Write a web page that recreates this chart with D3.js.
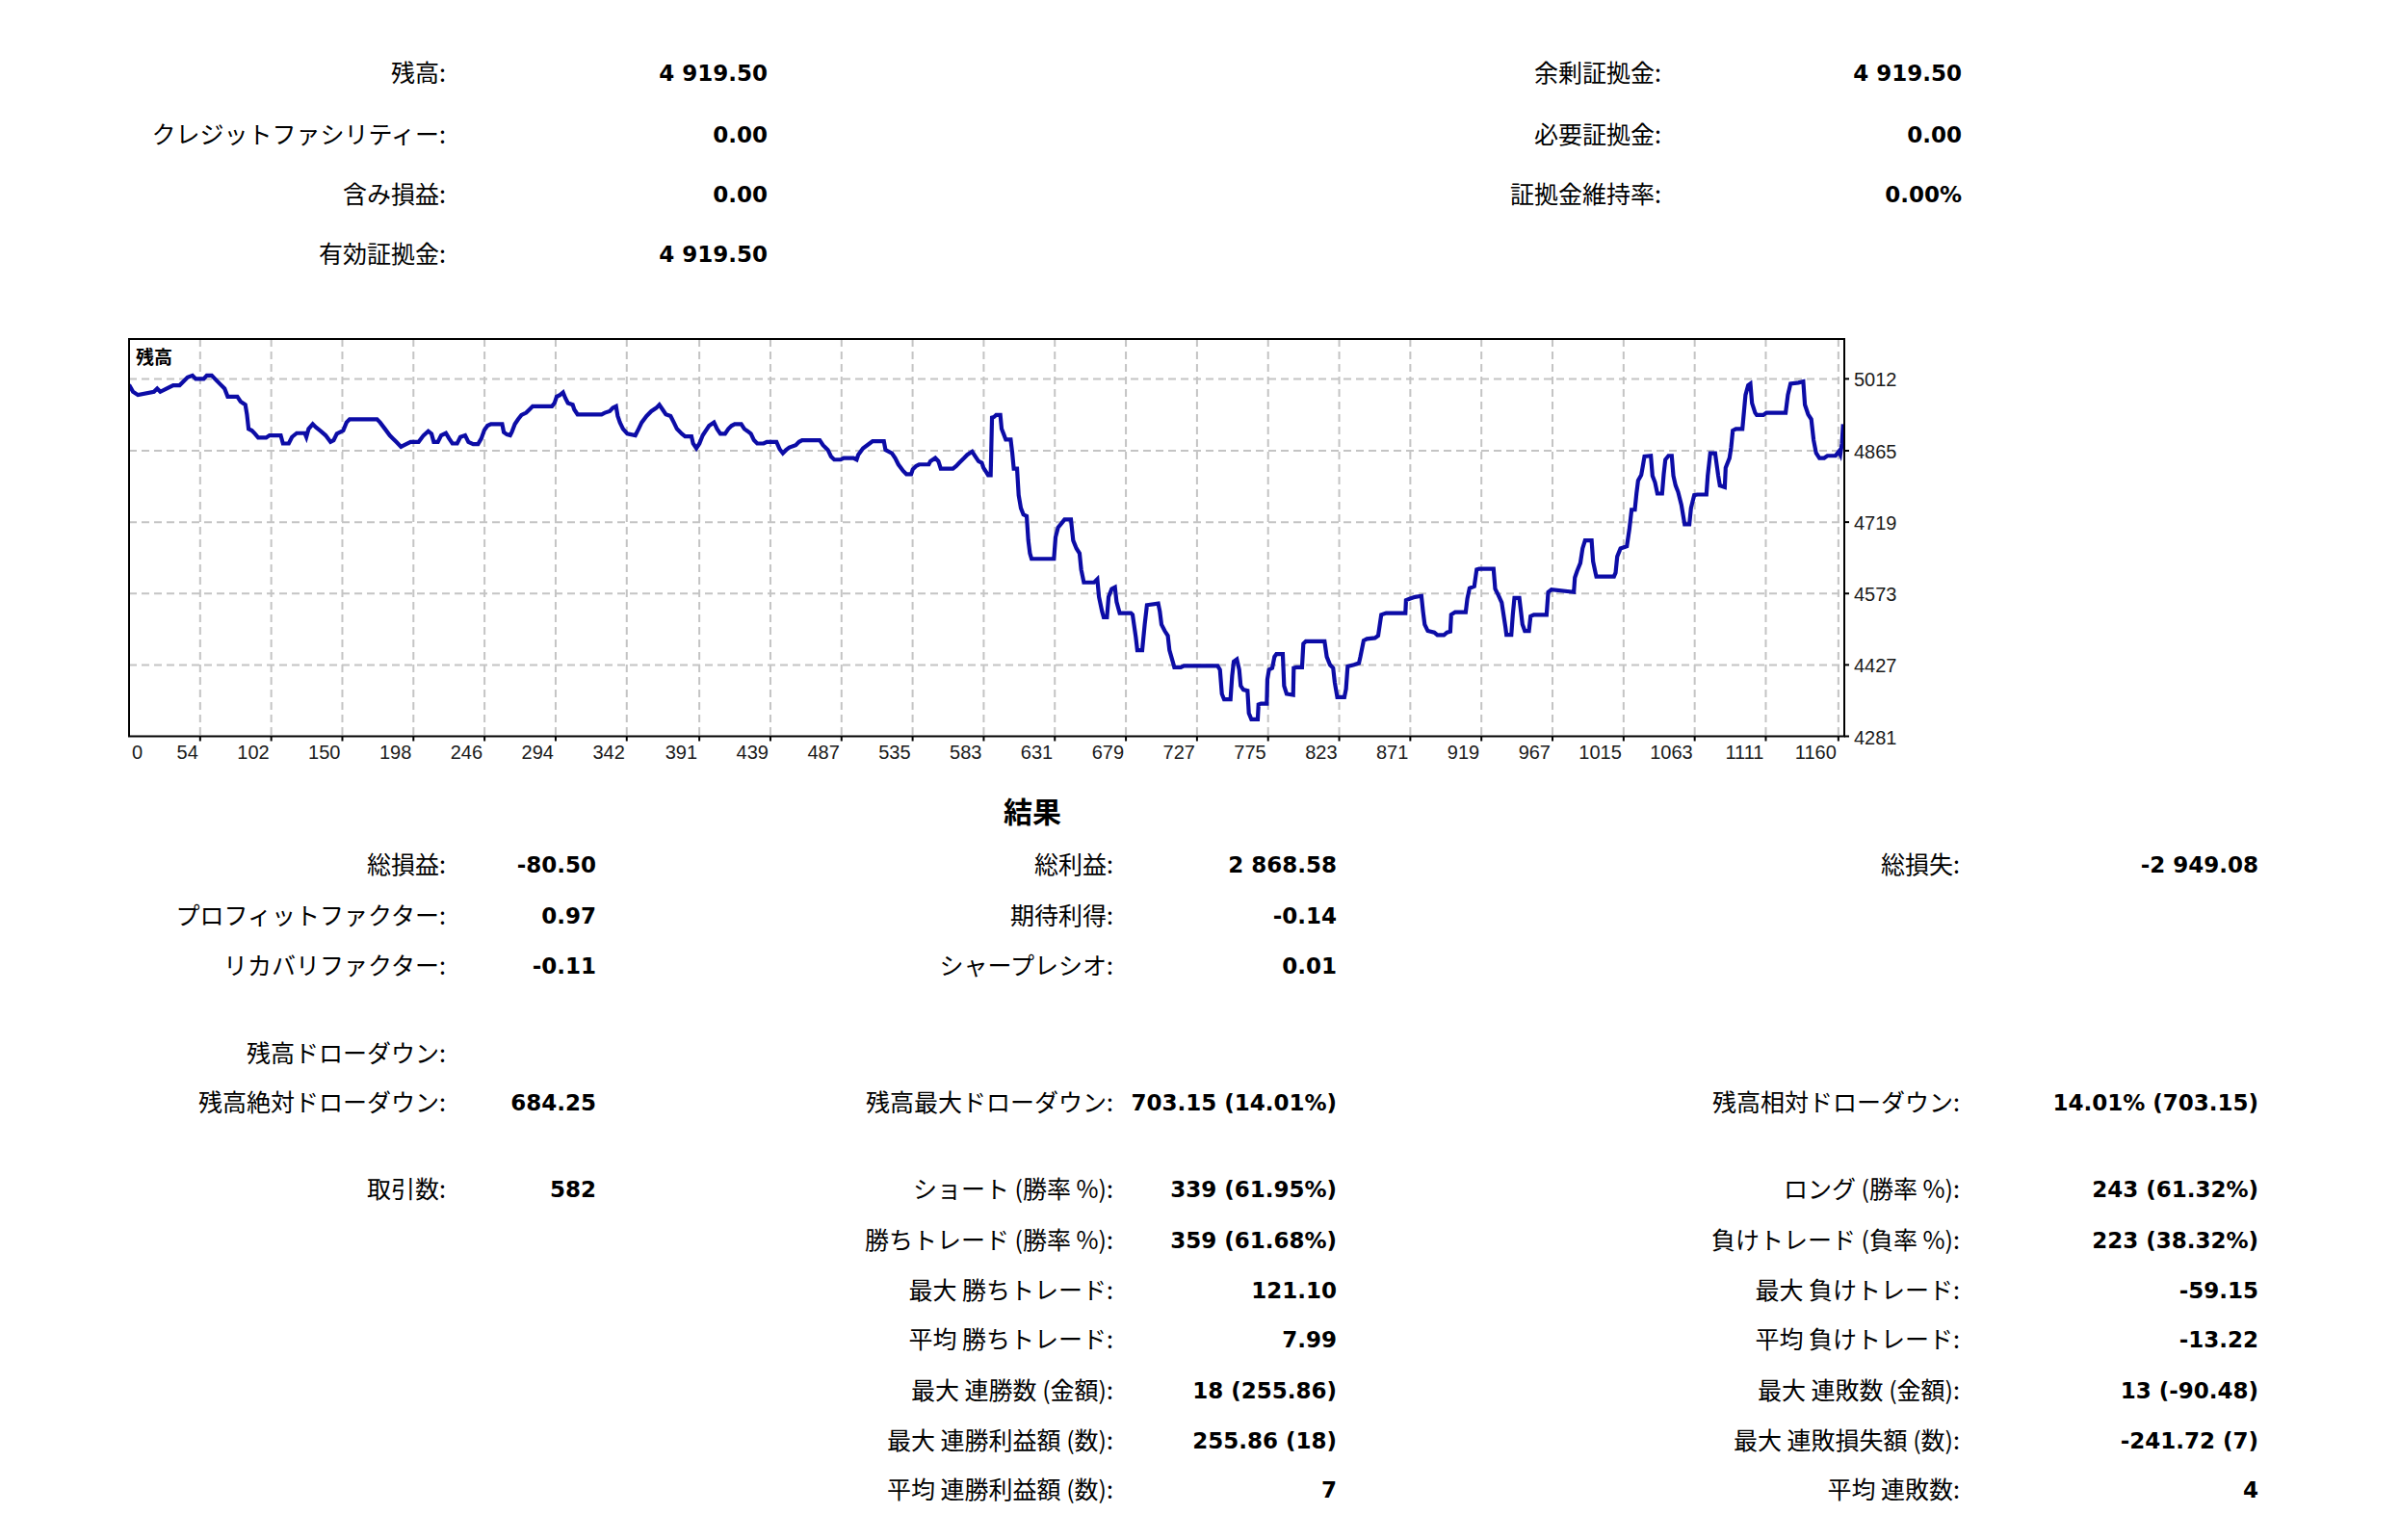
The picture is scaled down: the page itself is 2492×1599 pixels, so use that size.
<!DOCTYPE html>
<html lang="ja">
<head>
<meta charset="utf-8">
<title>残高</title>
<script src="https://cdn.jsdelivr.net/npm/d3@7"></script>
<style>
  html, body { margin: 0; padding: 0; background: #fff; }
  svg { display: block; }
  .label { font-family: "Noto Sans CJK JP", sans-serif; font-size: 25px; fill: #000; }
  .value { font-family: "DejaVu Sans", sans-serif; font-weight: bold; font-size: 23px; fill: #000; }
  .title { font-family: "Noto Sans CJK JP", sans-serif; font-weight: bold; font-size: 30px; fill: #000; }
  .axis-label { font-family: "Liberation Sans", Arial, sans-serif; font-size: 20px; fill: #1a1a1a; }
  .chart-name { font-family: "Noto Sans CJK JP", sans-serif; font-weight: bold; font-size: 19px; fill: #000; }
</style>
</head>
<body>
<div id="report"></div>
<script>
// account summary (top block)
const accountLabels = ['残高:', 'クレジットファシリティー:', '含み損益:', '有効証拠金:'];
const accountValues = ['4 919.50', '0.00', '0.00', '4 919.50'];
const marginLabels = ['余剰証拠金:', '必要証拠金:', '証拠金維持率:'];
const marginValues = ['4 919.50', '0.00', '0.00%'];

// balance curve: [deal number, balance]
const balanceCurve = [
  [6, 5000], [8.7, 4985.6], [12, 4979], [22.8, 4985.6], [25, 4992.2], [27.1, 4985.6], [31.5, 4992.2], [35.8, 4998.8],
  [40.1, 4998.8], [42.3, 5005.4], [45.5, 5015.3], [48.8, 5018.9], [51, 5012], [56.4, 5012], [58.5, 5018.9], [61.8, 5018.9],
  [64, 5012], [67.2, 5002.1], [70.5, 4992.2], [72.6, 4975.7], [79.1, 4975.7], [81.3, 4965.7], [84.5, 4959.1], [85.6, 4939.3],
  [86.7, 4909.6], [88.9, 4906.3], [91, 4899.7], [93.2, 4891.7], [98.6, 4891.7], [100.8, 4896.4], [108.4, 4896.4], [109.9, 4879.8],
  [113.8, 4879.8], [116, 4893.1], [119.2, 4901], [124.6, 4901], [125.7, 4893.1], [127.2, 4909.6], [130, 4919.5], [132.2, 4912.9],
  [135.4, 4905], [138.7, 4896.4], [142, 4883.1], [144.1, 4886.5], [146.3, 4899.7], [150.6, 4906.3], [152.8, 4922.8], [154.9, 4929.4],
  [173.4, 4929.4], [175.5, 4922.8], [178.8, 4909.6], [182, 4896.4], [184.2, 4889.8], [186.4, 4883.1], [189.6, 4873.2], [191.8, 4876.5],
  [196.1, 4883.1], [201.5, 4883.1], [204.8, 4896.4], [208, 4905], [210.2, 4899.7], [211.7, 4883.1], [214.5, 4883.1], [216.7, 4896.4],
  [219.9, 4901], [222.1, 4889.8], [224.3, 4879.8], [227.5, 4879.8], [229.7, 4893.1], [232.9, 4896.4], [235.1, 4883.1], [238.3, 4878.5],
  [241.6, 4878.5], [243.8, 4889.8], [245.9, 4907.6], [248, 4916.2], [250.3, 4919.5],
  [257.9, 4919.5], [259, 4903], [261.1, 4898.3], [263.3, 4896.4], [264.4, 4903], [266.5, 4919.5], [268.7, 4929.4], [270.9, 4938],
  [274.1, 4942.6], [276.3, 4949.2], [278.5, 4955.9], [291.5, 4955.9], [293.2, 4962.4], [294.7, 4975.7], [296.9, 4979], [299, 4984.2],
  [300.6, 4972.4], [302.3, 4962.4], [305.5, 4959.1], [306.6, 4949.2], [308.8, 4939.3], [325, 4939.3], [327.2, 4942.6], [330.5, 4945.9],
  [332.6, 4952.5], [334.8, 4955.8], [335.9, 4936], [337.4, 4922.8], [339.5, 4909.6], [342.4, 4899.7], [347.8, 4896.4], [350, 4909.6],
  [352.1, 4922.8], [355.4, 4936], [358.6, 4945.9], [361.9, 4952.5], [364, 4959.1], [366.2, 4949.2], [368.4, 4939.3], [371.6, 4936],
  [373.8, 4922.8], [375.9, 4909.6], [379.2, 4899.7], [381.4, 4894.4], [385.7, 4894.4], [386.8, 4879.8], [389, 4869.9], [391.1, 4879.8],
  [393.3, 4896.4], [395.4, 4906.3], [397.6, 4916.2], [400.9, 4922.8], [403, 4909.6], [405.2, 4899.7], [408.4, 4899.7], [410.6, 4909.6],
  [412.8, 4916.2], [414.9, 4919.5], [419.3, 4919.5], [421.4, 4909.6], [423.6, 4905], [425.8, 4899.7], [427.9, 4886.5], [430.1, 4879.8],
  [434.4, 4879.8], [436.6, 4883.1], [443.1, 4883.1], [445.3, 4868], [447.4, 4860], [449.6, 4866.6], [451.8, 4871.9], [456.1, 4876.5],
  [458.3, 4883.1], [460.4, 4886.5], [472.3, 4886.5], [474.5, 4876.5], [477.8, 4866.6], [479.9, 4853.4], [482.1, 4846.8],
  [486.4, 4846.8], [488.5, 4850.1], [495, 4850.1], [497.2, 4846.8], [498.3, 4856.7], [501.5, 4869.9], [505.9, 4879.8], [508, 4884.5],
  [515.6, 4884.5], [516.7, 4866.6], [521, 4860], [523.2, 4850.1], [525.4, 4836.9], [528.6, 4823.7], [530.8, 4817.1], [534, 4817.1],
  [535.1, 4827], [537.3, 4833.6], [539.4, 4836.9], [545.9, 4836.9], [547, 4843.5], [550.3, 4850.1], [552.4, 4843.5], [554, 4828.3],
  [562.2, 4828.3], [564.4, 4833.6], [566.5, 4840.2], [569.8, 4850.1], [571.9, 4856.7], [575.2, 4863.3], [577.3, 4853.4], [579.5, 4843.5],
  [581.7, 4840.2], [582.8, 4830.3], [584.9, 4820.4], [586, 4815.1], [587.7, 4815.1], [588.6, 4932.7], [589.9, 4934], [591.4, 4938],
  [594.2, 4938], [595.1, 4909.6], [596.4, 4899.7], [597.9, 4887.8], [601.2, 4887.8], [602.3, 4860], [603.3, 4828.3], [605.5, 4828.3],
  [606.6, 4774.1], [608.1, 4747.7], [609.8, 4734.5], [612, 4731.2], [613.1, 4681.6], [614.2, 4655.2], [615.3, 4643.9], [630.4, 4643.9],
  [631.5, 4688.2], [633.2, 4708], [635.4, 4716], [637.6, 4724.5], [641.9, 4724.5], [643.4, 4681.6], [645.6, 4665.1], [647.7, 4655.2],
  [648.8, 4622.1], [650.6, 4595.7], [657.5, 4595.7], [659.7, 4602.3], [660.8, 4566], [662.9, 4536.2], [664, 4524.3], [666.2, 4524.3],
  [667.3, 4566], [669.4, 4582.5], [671.6, 4585.8], [672.7, 4556.2], [674.8, 4532.9], [682.4, 4532.9], [683.5, 4529.6], [685.7, 4483.4],
  [686.7, 4456.9], [690, 4456.9], [691.7, 4509.8], [693.2, 4549.4], [700.8, 4552.7], [701.9, 4536.2], [703, 4509.8], [705.2, 4496.6],
  [707.3, 4486.7], [708.4, 4456.9], [710.6, 4433.8], [711.7, 4421.9], [716, 4421.9], [718.2, 4425.2],
  [740.9, 4425.2], [742.5, 4417.3], [743.8, 4367.7], [745.3, 4356.5], [749.6, 4356.5], [750.7, 4404.1], [751.8, 4433.8], [753.9, 4438.4],
  [755.5, 4417.3], [756.5, 4384.2], [758.3, 4376.3], [761.1, 4374.3], [762, 4328.1], [763.7, 4315.75], [768, 4315.75], [768.5, 4345.9],
  [770.2, 4347.9], [774.1, 4347.9], [774.5, 4397.5], [775.6, 4417.3], [777.8, 4420.6], [779.3, 4443.7], [780.6, 4449], [784.9, 4449],
  [785.8, 4384.2], [787.5, 4367.7], [791.9, 4365.7], [792.3, 4420.6], [794, 4421.9], [797.9, 4421.9], [798.8, 4470.1], [800.5, 4475.4],
  [813.1, 4475.4], [814.6, 4443.7], [816.8, 4427.2], [818.9, 4420.6], [820, 4390.8], [821.7, 4361.1], [826.5, 4361.1], [827.6, 4377.6],
  [828.7, 4423.9], [833, 4427.2], [836.3, 4430.5], [837.3, 4443.7], [839.5, 4476.8], [841.7, 4480.1], [847.1, 4482], [849.3, 4486.7],
  [851.4, 4529.6], [854.7, 4532.9], [867.7, 4532.9], [868.1, 4559.4], [870.9, 4562.7], [874.2, 4566], [878.5, 4568], [879.6, 4536.2],
  [880.7, 4509.8], [882.8, 4496.6], [887.2, 4493.3], [889.3, 4488], [893.7, 4488], [895.8, 4493.3], [898, 4495.3], [898.6, 4529.6],
  [901.3, 4534.9], [908.4, 4534.9], [909.5, 4562.7], [911, 4583.8], [914.2, 4587.8], [915.8, 4622.1], [917.5, 4623.4], [927.2, 4623.4],
  [928.3, 4582.5], [930.5, 4569.3], [932.7, 4554.7], [933.8, 4532.9], [935.3, 4503.2], [935.9, 4488.6], [939.2, 4488.6], [940.2, 4529.6],
  [941.3, 4564], [944.6, 4564], [945.7, 4536.2], [946.7, 4509.8], [948.3, 4496.6], [951.1, 4496.6], [952.2, 4526.3],
  [954.4, 4529.6], [963, 4529.6], [964.1, 4575.9], [966.3, 4581.2], [981.4, 4575.9], [982.1, 4605.6], [983.6, 4618.8], [985.8, 4635.3],
  [987.3, 4665.1], [989, 4681.6], [993.4, 4681.6], [994.4, 4638.6], [996, 4615.5], [996.6, 4607.6], [1008.5, 4607.6], [1009.6, 4615.5],
  [1010.7, 4648.6], [1012.9, 4665.1], [1017.2, 4669.7], [1018.9, 4704.7], [1020.4, 4744.4], [1022.6, 4744.4], [1023.7, 4777.4], [1024.8, 4803.9],
  [1026.9, 4815.1], [1028, 4833.6], [1029.1, 4853.4], [1033.4, 4854.7], [1034.5, 4813.8], [1036.2, 4800.5], [1037.8, 4777.4], [1041, 4777.4],
  [1042.1, 4817.1], [1043.2, 4846.8], [1045.3, 4854.7], [1047.5, 4854.7], [1048.6, 4813.8], [1050.1, 4793.9], [1051.8, 4780.7], [1054, 4754.3],
  [1056.2, 4714.6], [1059.4, 4714.6], [1060.5, 4747.7], [1061.6, 4760.9], [1062.7, 4774.1], [1064.8, 4775.4], [1070.9, 4775.4], [1071.8, 4813.8],
  [1073.5, 4860], [1076.8, 4860], [1078.9, 4813.8], [1080, 4793.9], [1083.3, 4790.6], [1083.9, 4830.3], [1086.5, 4850.1], [1087.6, 4871.9],
  [1088.7, 4906.3], [1090.8, 4909.6], [1095.2, 4909.6], [1096.3, 4945.9], [1097.3, 4979], [1099.1, 4998.8], [1100.6, 5002.1], [1101.7, 4962.4],
  [1103.8, 4942.6], [1104.9, 4938], [1109.3, 4938], [1111.4, 4942.6], [1124.4, 4942.6], [1125.9, 4979], [1127.7, 5002.1], [1133.1, 5004.1],
  [1136.3, 5006.7], [1137.4, 4959.1], [1139.6, 4939.3], [1141.7, 4929.4], [1143.3, 4886.5], [1145, 4860], [1147.2, 4850.1], [1150.4, 4850.1],
  [1152.6, 4854.7], [1158, 4854.7], [1160.2, 4863.3], [1161.3, 4856.7], [1162.4, 4879.8], [1163.2, 4919.5]
];

const xTickLabels = [0, 54, 102, 150, 198, 246, 294, 342, 391, 439, 487, 535, 583, 631, 679, 727, 775, 823, 871, 919, 967, 1015, 1063, 1111, 1160];
const yTickLabels = [4281, 4427, 4573, 4719, 4865, 5012];
const chartName = '残高';

// results block, one entry per row slot ('' = empty cell)
const resultTitle = '結果';
const resultLabelsA = ['総損益:', 'プロフィットファクター:', 'リカバリファクター:', '残高ドローダウン:', '残高絶対ドローダウン:', '取引数:', '', '', '', '', '', ''];
const resultValuesA = ['-80.50', '0.97', '-0.11', '', '684.25', '582', '', '', '', '', '', ''];
const resultLabelsB = ['総利益:', '期待利得:', 'シャープレシオ:', '', '残高最大ドローダウン:', 'ショート (勝率 %):', '勝ちトレード (勝率 %):',
  '最大 勝ちトレード:', '平均 勝ちトレード:', '最大 連勝数 (金額):', '最大 連勝利益額 (数):', '平均 連勝利益額 (数):'];
const resultValuesB = ['2 868.58', '-0.14', '0.01', '', '703.15 (14.01%)', '339 (61.95%)', '359 (61.68%)',
  '121.10', '7.99', '18 (255.86)', '255.86 (18)', '7'];
const resultLabelsC = ['総損失:', '', '', '', '残高相対ドローダウン:', 'ロング (勝率 %):', '負けトレード (負率 %):',
  '最大 負けトレード:', '平均 負けトレード:', '最大 連敗数 (金額):', '最大 連敗損失額 (数):', '平均 連敗数:'];
const resultValuesC = ['-2 949.08', '', '', '', '14.01% (703.15)', '243 (61.32%)', '223 (38.32%)',
  '-59.15', '-13.22', '13 (-90.48)', '-241.72 (7)', '4'];

// layout
const width = 2492, height = 1599;
const chartBox = {left: 134, right: 1915, top: 352, bottom: 764.5};
const topRowY = [76, 140, 202, 264];
const topColumns = [{labelX: 463, valueX: 797}, {labelX: 1725, valueX: 2037}];
const resultRowY = [898, 951, 1003, 1094, 1145, 1235, 1288, 1340, 1391, 1444, 1496, 1547];
const resultColumns = [{labelX: 463, valueX: 619}, {labelX: 1156, valueX: 1388}, {labelX: 2035, valueX: 2345}];

const svg = d3.select('#report')
    .append('svg')
    .attr('width', width)
    .attr('height', height);

function drawColumn(labels, values, rowsY, column) {
  const g = svg.append('g');
  g.selectAll('text.label')
      .data(labels)
      .enter()
      .append('text')
      .attr('class', 'label')
      .attr('x', column.labelX)
      .attr('y', (d, i) => rowsY[i])
      .attr('dy', '0.35em')
      .attr('text-anchor', 'end')
      .text(d => d);
  g.selectAll('text.value')
      .data(values)
      .enter()
      .append('text')
      .attr('class', 'value')
      .attr('x', column.valueX)
      .attr('y', (d, i) => rowsY[i])
      .attr('dy', '0.35em')
      .attr('text-anchor', 'end')
      .text(d => d);
}

drawColumn(accountLabels, accountValues, topRowY, topColumns[0]);
drawColumn(marginLabels, marginValues, topRowY, topColumns[1]);

// balance chart
const x = d3.scaleLinear()
    .domain([6, 1164])
    .range([chartBox.left, chartBox.right])
    .clamp(true);

const y = d3.scaleLinear()
    .domain([4281, 5093.5])
    .range([chartBox.bottom, chartBox.top]);

const chart = svg.append('g');

chart.append('clipPath')
    .attr('id', 'plot-clip')
    .append('rect')
    .attr('x', chartBox.left)
    .attr('y', chartBox.top)
    .attr('width', chartBox.right - chartBox.left)
    .attr('height', chartBox.bottom - chartBox.top);

const gridColor = '#c4c4c4';

chart.selectAll('.grid-x')
    .data(xTickLabels.slice(1))
    .enter()
    .append('line')
    .attr('class', 'grid-x')
    .attr('x1', d => x(d))
    .attr('x2', d => x(d))
    .attr('y1', chartBox.top)
    .attr('y2', chartBox.bottom)
    .attr('stroke', gridColor)
    .attr('stroke-width', 2)
    .attr('stroke-dasharray', '8,5');

chart.selectAll('.grid-y')
    .data(yTickLabels.slice(1))
    .enter()
    .append('line')
    .attr('class', 'grid-y')
    .attr('x1', chartBox.left)
    .attr('x2', chartBox.right)
    .attr('y1', d => y(d))
    .attr('y2', d => y(d))
    .attr('stroke', gridColor)
    .attr('stroke-width', 2)
    .attr('stroke-dasharray', '8,5');

const line = d3.line()
    .x(d => x(d[0]))
    .y(d => y(d[1]));

chart.append('path')
    .datum(balanceCurve)
    .attr('clip-path', 'url(#plot-clip)')
    .attr('fill', 'none')
    .attr('stroke', '#0c0ca6')
    .attr('stroke-width', 4.2)
    .attr('stroke-linejoin', 'miter')
    .attr('d', line);

chart.append('rect')
    .attr('x', chartBox.left)
    .attr('y', chartBox.top)
    .attr('width', chartBox.right - chartBox.left)
    .attr('height', chartBox.bottom - chartBox.top)
    .attr('fill', 'none')
    .attr('stroke', '#000')
    .attr('stroke-width', 2);

// small tick marks outside the frame
chart.selectAll('.tick-x')
    .data(xTickLabels.slice(1))
    .enter()
    .append('line')
    .attr('x1', d => x(d))
    .attr('x2', d => x(d))
    .attr('y1', chartBox.bottom)
    .attr('y2', chartBox.bottom + 5)
    .attr('stroke', '#000')
    .attr('stroke-width', 2);

chart.selectAll('.tick-y')
    .data(yTickLabels)
    .enter()
    .append('line')
    .attr('x1', chartBox.right)
    .attr('x2', chartBox.right + 5)
    .attr('y1', d => y(d))
    .attr('y2', d => y(d))
    .attr('stroke', '#000')
    .attr('stroke-width', 2);

chart.selectAll('.x-label')
    .data(xTickLabels)
    .enter()
    .append('text')
    .attr('class', 'axis-label')
    .attr('x', (d, i) => i === 0 ? x(d) + 3 : x(d) - 2)
    .attr('y', chartBox.bottom + 23)
    .attr('text-anchor', (d, i) => i === 0 ? 'start' : 'end')
    .text(d => d);

chart.selectAll('.y-label')
    .data(yTickLabels)
    .enter()
    .append('text')
    .attr('class', 'axis-label')
    .attr('x', chartBox.right + 10)
    .attr('y', d => y(d) + 1)
    .attr('dy', '0.35em')
    .text(d => d);

chart.append('text')
    .attr('class', 'chart-name')
    .attr('x', chartBox.left + 7)
    .attr('y', chartBox.top + 26)
    .text(chartName);

// results
svg.append('text')
    .attr('class', 'title')
    .attr('x', 1072)
    .attr('y', 843)
    .attr('dy', '0.36em')
    .attr('text-anchor', 'middle')
    .text(resultTitle);

drawColumn(resultLabelsA, resultValuesA, resultRowY, resultColumns[0]);
drawColumn(resultLabelsB, resultValuesB, resultRowY, resultColumns[1]);
drawColumn(resultLabelsC, resultValuesC, resultRowY, resultColumns[2]);
</script>
</body>
</html>
